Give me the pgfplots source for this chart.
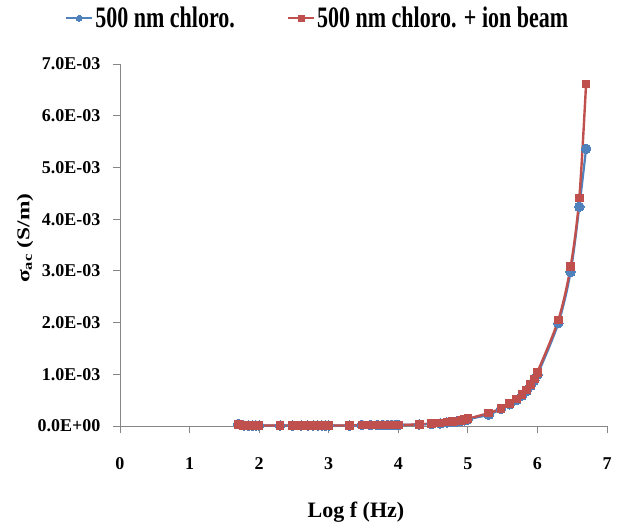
\documentclass[border=0pt]{standalone}
\usepackage{fontspec}
\setmainfont{Liberation Serif}
\usepackage{pgfplots}
\pgfplotsset{compat=1.18}
\usepackage{pgfplotstable}
\definecolor{exblue}{RGB}{79,129,189}
\definecolor{exred}{RGB}{192,80,77}
\definecolor{axgray}{RGB}{134,134,134}

\pgfplotstableread{
x      b        r
1.699  0.00004  0.00003
1.778  0.00001  0.00001
1.845  0.00001  0.00001
1.903  0.00001  0.00001
1.954  0.00001  0.00001
2.000  0.00001  0.00001
2.301  0.00001  0.00001
2.477  0.00001  0.00001
2.602  0.00001  0.00001
2.699  0.00001  0.00001
2.778  0.00001  0.00001
2.845  0.00001  0.00001
2.903  0.00001  0.00001
2.954  0.00001  0.00001
3.000  0.00001  0.00001
3.301  0.00001  0.00001
3.477  0.00002  0.00002
3.602  0.00002  0.00002
3.699  0.00002  0.00002
3.778  0.00002  0.00002
3.845  0.00002  0.00002
3.903  0.00002  0.00002
3.954  0.00002  0.00002
4.000  0.00002  0.00002
4.301  0.00003  0.00003
4.477  0.00004  0.00005
4.602  0.00005  0.00006
4.699  0.00007  0.00008
4.778  0.00008  0.00009
4.845  0.00009  0.00010
4.903  0.00010  0.00011
4.954  0.00011  0.00012
5.000  0.00013  0.00014
5.301  0.00022  0.00025
5.477  0.00033  0.00034
5.602  0.00042  0.00044
5.699  0.00050  0.00052
5.778  0.00059  0.00061
5.845  0.00068  0.00070
5.903  0.00078  0.00080
5.954  0.00088  0.00091
6.000  0.00099  0.00104
6.301  0.00199  0.00205
6.477  0.00298  0.00308
6.602  0.00424  0.00441
6.699  0.00536  0.00661
}\datatable

\begin{document}
\begin{tikzpicture}
\path[use as bounding box] (-120pt,-101pt) rectangle (501pt,426pt);
\begin{axis}[
  at={(0,0)}, anchor=south west,
  scale only axis,
  width=487pt, height=362pt,
  xmin=0, xmax=7, ymin=0, ymax=0.007,
  axis lines*=left,
  axis line style={axgray, line width=0.8pt},
  tick style={axgray, line width=0.8pt},
  tick align=outside,
  major tick length=7pt,
  xtick={0,1,2,3,4,5,6,7},
  xticklabels={\textbf{0},\textbf{1},\textbf{2},\textbf{3},\textbf{4},\textbf{5},\textbf{6},\textbf{7}},
  ytick={0,0.001,0.002,0.003,0.004,0.005,0.006,0.007},
  yticklabels={\textbf{0.0E+00},\textbf{1.0E-03},\textbf{2.0E-03},\textbf{3.0E-03},\textbf{4.0E-03},\textbf{5.0E-03},\textbf{6.0E-03},\textbf{7.0E-03}},
  scaled y ticks=false,
  ticklabel style={font=\fontsize{18}{21}\selectfont},
  xticklabel style={yshift=-21pt},
  yticklabel style={xshift=-9pt},
  xlabel={\textbf{Log f (Hz)}},
  xlabel style={font=\fontsize{22}{26}\selectfont, at={(axis description cs:0.4846,-0.2514)}, anchor=base},
  ylabel={\scalebox{1.3}[1]{\textbf{σ\textsubscript{ac} (S/m)}}},
  ylabel style={font=\fontsize{18}{21}\selectfont, at={(axis description cs:-0.195,0.519)}, anchor=center},
  legend style={draw=none, fill=none, at={(axis description cs:-0.113,1.163)}, anchor=north west,
    inner sep=0pt, legend columns=2, font=\fontsize{22}{26}\selectfont\bfseries,
    /tikz/every even column/.append style={column sep=50pt}},
  legend image code/.code={\draw[mark repeat=2,mark phase=2,#1,line width=2.2pt,mark size=3pt] plot coordinates {(0pt,0pt) (13pt,0pt) (26pt,0pt)};},
  legend cell align=left,
  clip=false,
]
\addplot[exblue, line width=2.2pt, smooth, mark=*, mark size=4.8pt, mark options={fill=exblue, draw=exblue, line width=0pt}]
  table[x=x, y=b] {\datatable};
\addlegendentry{\scalebox{1}[1.35]{500 nm chloro.}}
\addplot[exred, line width=2.4pt, smooth, mark=square*, mark size=3.8pt, mark options={fill=exred, draw=exred, line width=0pt}]
  table[x=x, y=r] {\datatable};
\addlegendentry{\scalebox{1}[1.35]{500 nm chloro. + ion beam}}
\end{axis}
\end{tikzpicture}
\end{document}
